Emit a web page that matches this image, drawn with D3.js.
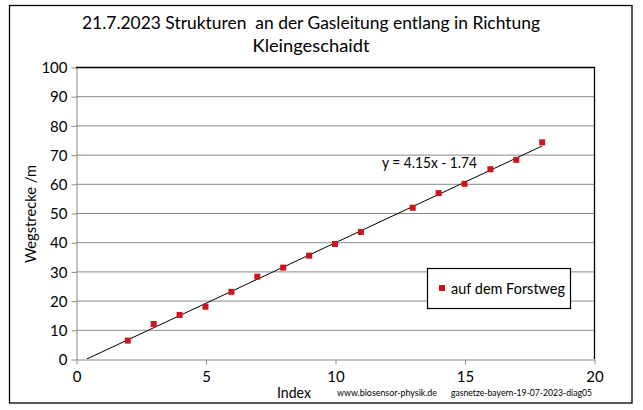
<!DOCTYPE html>
<html><head><meta charset="utf-8">
<script src="https://cdn.jsdelivr.net/npm/d3@7"></script>
<style>body{margin:0;background:#fff}svg{display:block}text{font-family:Lato,"Open Sans",sans-serif}</style>
</head><body><svg id="c" width="643" height="410"></svg>
<script>
const indexValues = [2,3,4,5,6,7,8,9,10,11,13,14,15,16,17,18];
const distanceValues = [6.3,12.0,15.1,17.9,23.0,28.2,31.3,35.4,39.4,43.5,51.8,56.8,60.0,65.0,68.2,74.2];
const xTicks = [0,5,10,15,20];
const yTicks = [0,10,20,30,40,50,60,70,80,90,100];
const trendSlope = 4.15, trendIntercept = -1.74;
const titleLines = ["21.7.2023 Strukturen  an der Gasleitung entlang in Richtung","Kleingeschaidt"];
const seriesName = "auf dem Forstweg";

const svg = d3.select("#c");
const L=76, R=594, T=67, B=359;
const x = d3.scaleLinear().domain([0,20]).range([L,R]);
const y = d3.scaleLinear().domain([0,100]).range([B,T]);

svg.append("rect").attr("x",9.5).attr("y",5.5).attr("width",622.5).attr("height",397.5)
  .attr("fill","#fff").attr("stroke","#000").attr("stroke-width",1.3);

// title
svg.append("text").attr("x",311).attr("y",29).attr("text-anchor","middle").attr("font-size",18)
  .style("white-space","pre")
  .attr("textLength",458).attr("lengthAdjust","spacingAndGlyphs").text(titleLines[0]);
svg.append("text").attr("x",311).attr("y",52).attr("text-anchor","middle").attr("font-size",18)
  .attr("textLength",117).attr("lengthAdjust","spacingAndGlyphs").text(titleLines[1]);

// gridlines
svg.append("g").selectAll("line").data(yTicks.filter(d=>d>0&&d<100)).join("line")
  .attr("x1",L).attr("x2",R).attr("y1",d=>y(d)+0.5).attr("y2",d=>y(d)+0.5)
  .attr("stroke","#8a8a8a").attr("stroke-width",1);

// axes
const yAxis = d3.axisLeft(y).tickValues(yTicks).tickSize(5).tickSizeOuter(0);
const gy = svg.append("g").attr("transform",`translate(${L+0.5},0.5)`).call(yAxis);
gy.select(".domain").attr("stroke","#8a8a8a");
gy.selectAll(".tick line").attr("stroke","#8a8a8a");
gy.selectAll(".tick text").attr("font-size",15).attr("font-family","Lato,sans-serif").attr("fill","#000").attr("x",-9).attr("dy","0.35em");

const xAxis = d3.axisBottom(x).tickValues(xTicks).tickSize(5).tickSizeOuter(0);
const gx = svg.append("g").attr("transform",`translate(0.5,${B+0.5})`).call(xAxis);
gx.select(".domain").attr("stroke","#8a8a8a");
gx.selectAll(".tick line").attr("stroke","#8a8a8a");
gx.selectAll(".tick text").attr("font-size",15).attr("font-family","Lato,sans-serif").attr("fill","#000").attr("y",12);

// top and right borders
svg.append("path").attr("d",`M${L},${T+0.5}H${R+0.5}V${B}`).attr("fill","none").attr("stroke","#000").attr("stroke-width",1.3);

// trendline
svg.append("clipPath").attr("id","pc").append("rect").attr("x",L).attr("y",T).attr("width",R-L).attr("height",B-T);
const tx0 = 0, tx1 = d3.max(indexValues);
svg.append("line").attr("clip-path","url(#pc)")
  .attr("x1",x(tx0)).attr("y1",y(trendSlope*tx0+trendIntercept))
  .attr("x2",x(tx1)).attr("y2",y(trendSlope*tx1+trendIntercept))
  .attr("stroke","#000").attr("stroke-width",1);

// points
svg.append("g").selectAll("rect").data(indexValues.map((v,i)=>[v,distanceValues[i]])).join("rect")
  .attr("x",d=>x(d[0])-3).attr("y",d=>y(d[1])-3).attr("width",6).attr("height",6).attr("fill","#cc141c");

// equation
svg.append("text").attr("x",382).attr("y",168).attr("font-size",14.5)
  .attr("textLength",95).attr("lengthAdjust","spacingAndGlyphs")
  .text(`y = ${trendSlope.toFixed(2)}x - ${Math.abs(trendIntercept).toFixed(2)}`);

// legend
svg.append("rect").attr("x",427.5).attr("y",268.5).attr("width",143).attr("height",40)
  .attr("fill","#fff").attr("stroke","#000").attr("stroke-width",1.2);
svg.append("rect").attr("x",439).attr("y",285).attr("width",6).attr("height",6).attr("fill","#cc141c");
svg.append("text").attr("x",451).attr("y",293.5).attr("font-size",15)
  .attr("textLength",114).attr("lengthAdjust","spacingAndGlyphs").text(seriesName);

// axis titles
svg.append("text").attr("transform","translate(36,214) rotate(-90)").attr("text-anchor","middle")
  .attr("font-size",15).attr("textLength",98).attr("lengthAdjust","spacingAndGlyphs").text("Wegstrecke /m");
svg.append("text").attr("x",277).attr("y",398).attr("font-size",15)
  .attr("textLength",34).attr("lengthAdjust","spacingAndGlyphs").text("Index");
svg.append("text").attr("x",337).attr("y",396).attr("font-size",10)
  .attr("textLength",100).attr("lengthAdjust","spacingAndGlyphs").text("www.biosensor-physik.de");
svg.append("text").attr("x",451).attr("y",396).attr("font-size",10)
  .attr("textLength",141).attr("lengthAdjust","spacingAndGlyphs").text("gasnetze-bayern-19-07-2023-diag05");
</script></body></html>
